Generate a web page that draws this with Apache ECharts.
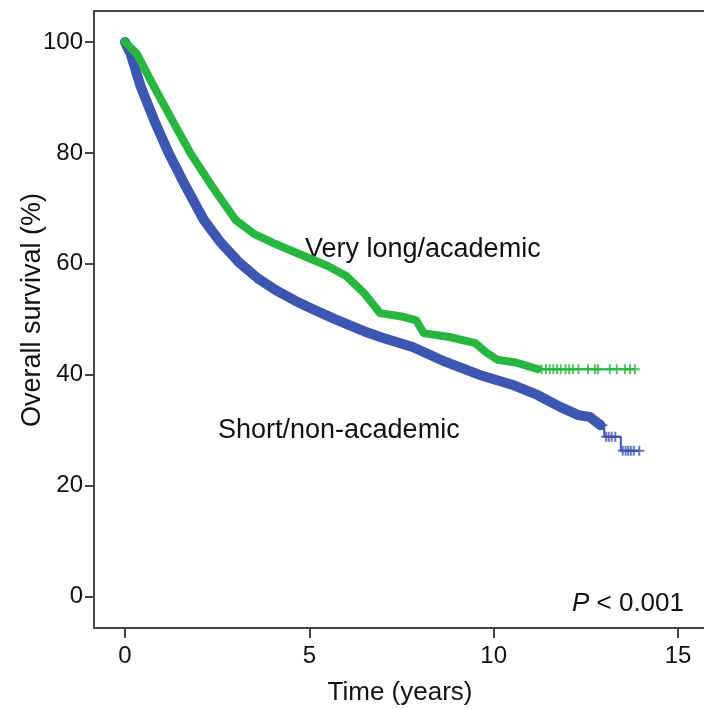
<!DOCTYPE html>
<html><head><meta charset="utf-8">
<script src="https://cdn.jsdelivr.net/npm/echarts@6/dist/echarts.min.js"></script>
<style>html,body{margin:0;padding:0;background:#fff}#c{width:704px;height:709px}</style>
</head><body><div id="c"></div>
<script>
// ---- data ----
const xTicks = [0, 5, 10, 15];
const yTicks = [0, 20, 40, 60, 80, 100];

const blueName = 'Short/non-academic';
const blueTime = [0, 0.15, 0.43, 0.79, 1.19, 1.65, 2.14, 2.6, 3.1, 3.6, 4.1, 4.6, 5.1, 5.6, 6.1, 6.5, 6.92, 7.8, 8.7, 9.6, 10.5, 11.2, 11.8, 12.3, 12.6, 12.9, 13.0, 13.45, 13.95];
const blueSurv = [100, 97.9, 91.9, 85.9, 79.9, 73.9, 67.9, 63.8, 60.2, 57.4, 55.2, 53.4, 51.8, 50.3, 48.9, 47.8, 46.8, 45.0, 42.3, 40.0, 38.2, 36.3, 34.2, 32.7, 32.4, 30.9, 28.8, 26.3, 26.3];
const blueCensor = [12.95, 13.05, 13.12, 13.2, 13.3, 13.5, 13.58, 13.65, 13.72, 13.8, 13.95];

const greenName = 'Very long/academic';
const greenTime = [0, 0.32, 0.79, 1.28, 1.78, 2.37, 3.0, 3.5, 4.0, 4.5, 5.0, 5.5, 6.0, 6.5, 6.92, 7.5, 7.9, 8.1, 8.8, 9.5, 9.8, 10.1, 10.6, 11.2, 13.83];
const greenSurv = [100, 97.9, 91.9, 85.9, 79.9, 73.9, 67.9, 65.4, 63.8, 62.4, 61.0, 59.6, 57.8, 54.6, 51.1, 50.5, 49.8, 47.5, 46.8, 45.7, 44.0, 42.7, 42.2, 41.0, 41.0];
const greenCensor = [11.3, 11.42, 11.52, 11.62, 11.72, 11.82, 11.95, 12.05, 12.15, 12.3, 12.56, 12.75, 12.83, 13.15, 13.34, 13.56, 13.7, 13.83];

const xName = 'Time (years)';
const yName = 'Overall survival (%)';

// ---- styling ----
const BLUE = '#3C56B1';
const GREEN = '#27B640';
const AXIS = '#444';
const FONT = '"Liberation Sans", Arial, Helvetica, sans-serif';
const blueBandUntil = 12.9;
const greenBandUntil = 11.2;

function pairs(t, s) { return t.map((v, i) => [v, s[i]]); }
function stepAt(t, s, x) {
  let v = s[0];
  for (let i = 0; i < t.length; i++) { if (t[i] <= x) v = s[i]; }
  return v;
}
const plus = 'path://M4,0H6V4H10V6H6V10H4V6H0V4H4Z';

const chart = echarts.init(document.getElementById('c'), null, {renderer: 'canvas'});
chart.setOption({
  animation: false,
  backgroundColor: '#fff',
  grid: {left: 94, right: -2, top: 11, bottom: 81, show: true, borderColor: AXIS, borderWidth: 2, outerBoundsMode: 'none', containLabel: false},
  xAxis: {
    type: 'value', min: -0.841, max: 15.76,
    axisLine: {show: false, onZero: false}, splitLine: {show: false},
    axisTick: {show: true, customValues: xTicks, length: 10, lineStyle: {color: AXIS, width: 2}},
    axisLabel: {customValues: xTicks, fontSize: 24, color: '#111', margin: 16, fontFamily: FONT},
    name: xName, nameLocation: 'middle', nameGap: 52,
    nameTextStyle: {fontSize: 26, color: '#111', fontFamily: FONT}
  },
  yAxis: {
    type: 'value', min: -5.68, max: 105.59,
    axisLine: {show: false, onZero: false}, splitLine: {show: false},
    axisTick: {show: true, customValues: yTicks, length: 9, lineStyle: {color: AXIS, width: 2}},
    axisLabel: {customValues: yTicks, fontSize: 24, color: '#111', margin: 11, fontFamily: FONT, padding: [8, 0, 0, 0]}
  },
  graphic: [
    {type: 'text', x: 33, y: 310, rotation: Math.PI / 2,
     style: {text: yName, font: '27px ' + FONT, fill: '#111', align: 'center', verticalAlign: 'middle', textAlign: 'center', textVerticalAlign: 'middle'}},
    {type: 'text', x: 305, y: 250,
     style: {text: greenName, font: '27px ' + FONT, fill: '#111', align: 'left', verticalAlign: 'middle', textAlign: 'left', textVerticalAlign: 'middle'}},
    {type: 'text', x: 218, y: 431,
     style: {text: blueName, font: '27px ' + FONT, fill: '#111', align: 'left', verticalAlign: 'middle', textAlign: 'left', textVerticalAlign: 'middle'}},
    {type: 'text', x: 684, y: 604,
     style: {text: '{i|P} < 0.001', font: '26px ' + FONT, fill: '#111', align: 'right', verticalAlign: 'middle', textAlign: 'right', textVerticalAlign: 'middle',
       rich: {i: {fontStyle: 'italic', font: 'italic 26px ' + FONT, fill: '#111'}}}}
  ],
  series: [
    {type: 'line', name: blueName + ' tail', data: pairs(blueTime, blueSurv).filter(p => p[0] >= blueBandUntil), step: 'end', showSymbol: false,
     lineStyle: {color: BLUE, width: 2}, z: 2},
    {type: 'line', name: blueName, data: pairs(blueTime, blueSurv).filter(p => p[0] <= blueBandUntil), showSymbol: false,
     lineStyle: {color: BLUE, width: 10, cap: 'round', join: 'round'}, z: 3},
    {type: 'scatter', name: blueName + ' censored', data: blueCensor.map(x => [x, stepAt(blueTime, blueSurv, x)]),
     symbol: plus, symbolSize: 10, itemStyle: {color: BLUE}, z: 3},
    {type: 'line', name: greenName + ' tail', data: pairs(greenTime, greenSurv).filter(p => p[0] >= greenBandUntil), step: 'end', showSymbol: false,
     lineStyle: {color: GREEN, width: 2}, z: 4},
    {type: 'line', name: greenName, data: pairs(greenTime, greenSurv).filter(p => p[0] <= greenBandUntil), showSymbol: false,
     lineStyle: {color: GREEN, width: 8, cap: 'round', join: 'round'}, z: 5},
    {type: 'scatter', name: greenName + ' censored', data: greenCensor.map(x => [x, stepAt(greenTime, greenSurv, x)]),
     symbol: plus, symbolSize: 10, itemStyle: {color: GREEN}, z: 5}
  ]
});
</script>
</body></html>
